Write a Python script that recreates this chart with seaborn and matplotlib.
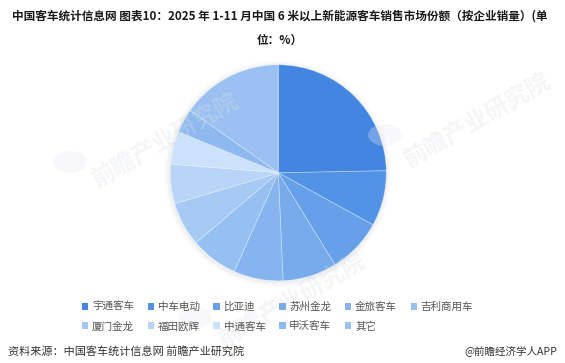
import matplotlib
matplotlib.use("Agg")
import matplotlib.pyplot as plt
from matplotlib.patches import Patch, Circle
import seaborn as sns

sns.set_theme(style="white")
plt.rcParams["font.family"] = ["Noto Sans CJK SC", "DejaVu Sans"]

# Market share of 6m+ new-energy buses, Jan-Nov 2025 (%)
companies = ["宇通客车", "中车电动", "比亚迪", "苏州金龙", "金旅客车", "吉利商用车",
             "厦门金龙", "福田欧辉", "中通客车", "申沃客车", "其它"]
shares = [24.7, 8.3, 8.2, 8.1, 7.4, 7.1, 6.6, 5.9, 4.9, 3.6, 15.2]
colors = ["#4286E2", "#5393E6", "#66A0E9", "#78ABEC", "#86B4EE", "#97C0F2",
          "#A7CAF4", "#B8D5F7", "#CCE2FB", "#8DB9F0", "#9AC1F2"]

title_line1 = "中国客车统计信息网 图表10：2025 年 1-11 月中国 6 米以上新能源客车销售市场份额（按企业销量）(单"
title_line2 = "位：%）"
source_text = "资料来源：中国客车统计信息网 前瞻产业研究院"
brand_text = "@前瞻经济学人APP"

W, H = 565, 363
fig = plt.figure(figsize=(W / 100, H / 100), dpi=100)
fig.patch.set_facecolor("white")

# faint brand watermarks in the background
wm = dict(color="#d9dee5", alpha=0.3, rotation=30, fontweight="bold",
          ha="left", va="center", zorder=0)
fig.text(88 / W, 1 - 140 / H, "前瞻产业研究院", fontsize=17, **wm)
fig.text(215 / W, 1 - 300 / H, "前瞻产业研究院", fontsize=17, **wm)
fig.text(400 / W, 1 - 120 / H, "前瞻产业研究院", fontsize=17, **wm)
for (lx, ly) in [(70, 162), (195, 318), (385, 135)]:
    fig.patches.append(Circle((lx / W, 1 - ly / H), 17 / W, transform=fig.transFigure,
                              facecolor="#e8ebf0", alpha=0.3, edgecolor="none", zorder=0))

# pie axes: centre (278, 173) px, radius 108 px
cx, cy, r = 278.3, 172.8, 108
ax = fig.add_axes([(cx - r) / W, 1 - (cy + r) / H, 2 * r / W, 2 * r / H])

wedges, _ = ax.pie(shares, colors=colors, startangle=90, counterclock=False,
                   radius=1.0, frame=False,
                   wedgeprops=dict(linewidth=0.6, edgecolor=(1, 1, 1, 0.35)))
for w in wedges:
    w.set_zorder(2)

# soft drop shadow under the pie
for i, a in enumerate([0.035, 0.03, 0.025, 0.02]):
    ax.add_patch(Circle((-0.005, -0.01), 1.0 + 0.012 * (i + 1), facecolor="#6b7a90",
                        alpha=a, edgecolor="none", zorder=0, clip_on=False))

ax.set_xlim(-1, 1)
ax.set_ylim(-1, 1)
ax.set_aspect("equal")
ax.axis("off")

# title
fig.text(280 / W, 1 - 16 / H, title_line1, ha="center", va="center",
         fontsize=8.4, fontweight="bold", color="#1a1a1a")
fig.text(280 / W, 1 - 40 / H, title_line2, ha="center", va="center",
         fontsize=8.4, fontweight="bold", color="#1a1a1a")

# legend laid out row by row (6 columns)
handles = [Patch(facecolor=c, edgecolor="none") for c in colors]
order = [0, 6, 1, 7, 2, 8, 3, 9, 4, 10, 5]
leg = fig.legend([handles[i] for i in order], [companies[i] for i in order],
                 ncol=6, loc="upper left", bbox_to_anchor=(82 / W, 1 - 302 / H),
                 frameon=False, fontsize=7.6, handlelength=0.6, handleheight=0.6,
                 handletextpad=0.35, columnspacing=1.3, labelspacing=0.85,
                 borderpad=0, borderaxespad=0)
for t in leg.get_texts():
    t.set_color("#555555")

# footer
fig.text(8 / W, 1 - 351 / H, source_text, ha="left", va="center",
         fontsize=8.0, color="#333333")
fig.text(557 / W, 1 - 351 / H, brand_text, ha="right", va="center",
         fontsize=7.6, color="#333333")

fig.savefig("out.png", dpi=100, facecolor="white")
